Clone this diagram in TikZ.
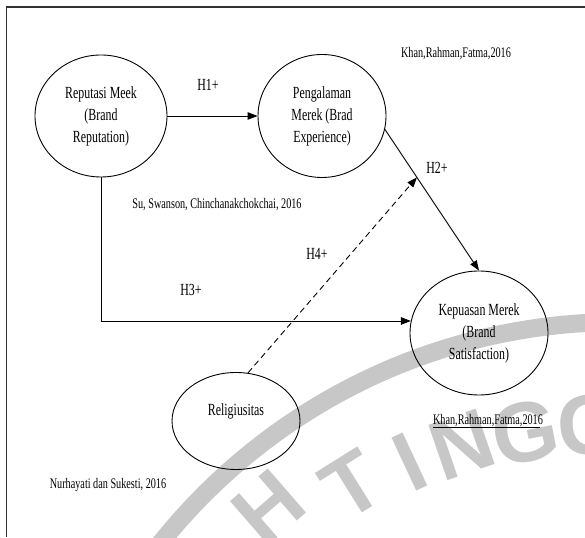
\documentclass[tikz,border=0pt]{standalone}
\usepackage{fontspec}
\setmainfont{Liberation Serif}[FakeStretch=0.7]
\newfontfamily\wmfont{Liberation Sans}
\usetikzlibrary{shapes.geometric,arrows.meta}

\begin{document}
\begin{tikzpicture}[x=1pt,y=1pt,
    var/.style={ellipse,draw,line width=0.9pt,inner sep=0pt,align=center,
      font=\fontsize{17}{22}\selectfont},
    cite/.style={inner sep=0pt,font=\fontsize{14.6}{16}\selectfont},
    hyp/.style={inner sep=0pt,font=\fontsize{17}{18}\selectfont},
    conn/.style={line width=0.9pt,-{Triangle[length=10pt,width=7.5pt]}},
    dashconn/.style={conn,dash pattern=on 6pt off 4pt},
    wm/.style={black!22}]
  \useasboundingbox (0,0) rectangle (585,537);

  % watermark
  \begin{scope}
    \clip (0,0) rectangle (585,537);
    \draw[wm,line width=18pt] (620,-373) circle (588);
    \foreach \ch/\x/\y/\r in {H/268/30/41, T/352/52/32, I/410/75/25,
        N/462/92/19, G/525/105/11, G/590/112/4}
      \node[wm,font=\wmfont\bfseries\fontsize{85}{85}\selectfont,rotate=\r]
        at (\x,\y) {\ch};
  \end{scope}

  \draw[line width=1.6pt,black!80] (6.5,0) -- (6.5,530) -- (585,530);

  \node[var,minimum width=132pt,minimum height=122pt] (rep) at (101,421)
    {Reputasi Meek\\(Brand\\Reputation)};
  \node[var,minimum width=128pt,minimum height=123pt] (pe) at (322,421)
    {Pengalaman\\Merek (Brad\\Experience)};
  \node[var,minimum width=138pt,minimum height=124pt] (kp) at (479,204)
    {Kepuasan Merek\\(Brand\\Satisfaction)};
  \node[var,minimum width=128pt,minimum height=97pt] (rel) at (236,116)
    {Religiusitas\\~};

  \draw[conn] (rep.east) -- (pe.west);
  \draw[conn] (pe.-12) -- coordinate[pos=0.34] (hit) (kp.north);
  \draw[conn] (rep.south) |- (kp.170);
  \draw[dashconn] (rel.76) -- (hit);

  \node[hyp] (h1) at (208,452) {H1+};
  \node[hyp] (h2) at (437,369) {H2+};
  \node[hyp] (h3) at (191,247) {H3+};
  \node[hyp] (h4) at (317,283) {H4+};

  \node[cite] (c1) at (456,483) {Khan,Rahman,Fatma,2016};
  \node[cite] (c2) at (217,332) {Su, Swanson, Chinchanakchokchai, 2016};
  \node[cite] (c3) at (488,116) {Khan,Rahman,Fatma,2016};
  \draw[line width=0.6pt] (c3.south west) -- ([xshift=-3pt]c3.south east);
  \node[cite] (c4) at (108,52) {Nurhayati dan Sukesti, 2016};
\end{tikzpicture}
\end{document}
